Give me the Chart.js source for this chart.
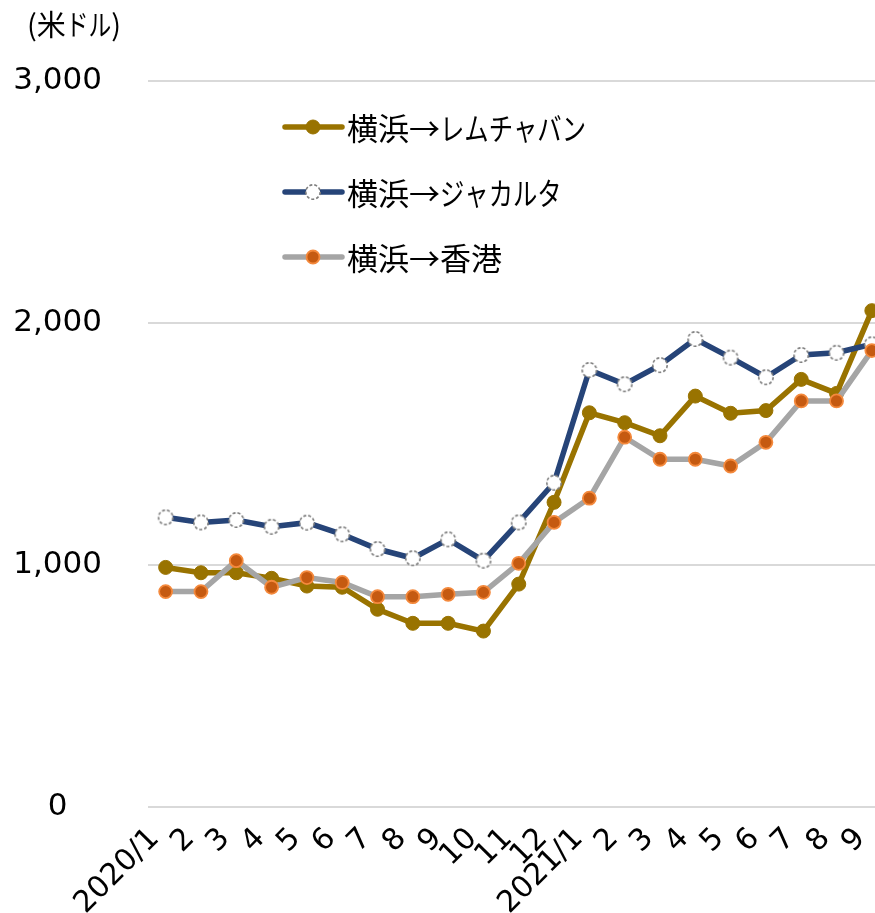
<!DOCTYPE html>
<html>
<head>
<meta charset="utf-8">
<script src="https://cdn.jsdelivr.net/npm/chart.js@4/dist/chart.umd.min.js"></script>
<style>
  html, body { margin: 0; padding: 0; background: #fff; overflow: hidden; }
  #wrap { width: 903px; height: 913px; }
</style>
</head>
<body>
<div id="wrap"><canvas id="myChart" width="903" height="913"></canvas></div>
<script>
  // months on the x axis
  const labels = ['2020/1', '2', '3', '4', '5', '6', '7', '8', '9', '10', '11', '12',
    '2021/1', '2', '3', '4', '5', '6', '7', '8', '9'];

  // freight, US dollars
  const laemChabang = [990, 968, 968, 945, 913, 908, 817, 759, 759, 727, 921, 1259,
    1629, 1588, 1534, 1698, 1627, 1638, 1767, 1709, 2051];
  const jakarta = [1197, 1176, 1186, 1158, 1175, 1127, 1066, 1028, 1106, 1018, 1176, 1340,
    1806, 1747, 1826, 1934, 1857, 1776, 1868, 1877, 1912];
  const hongKong = [890, 890, 1018, 908, 948, 928, 869, 869, 879, 887, 1007, 1176,
    1276, 1528, 1437, 1437, 1409, 1507, 1678, 1678, 1886];

  const yTicks = [0, 1000, 2000, 3000];
  const seriesNames = ['横浜→レムチャバン', '横浜→ジャカルタ', '横浜→香港'];

  // white marker with dashed grey ring
  const dashed = document.createElement('canvas');
  dashed.width = 20;
  dashed.height = 20;
  const dc = dashed.getContext('2d');
  dc.beginPath();
  dc.arc(10, 10, 7.2, 0, Math.PI * 2);
  dc.fillStyle = '#fff';
  dc.fill();
  dc.setLineDash([3, 2]);
  dc.lineWidth = 1.6;
  dc.strokeStyle = '#7f7f7f';
  dc.stroke();

  // kana are narrower than kanji in the original font, squeeze them a bit
  function drawJp(ctx, text, x, y, size) {
    ctx.font = size + 'px "Noto Sans CJK JP"';
    for (const ch of text) {
      const narrow = /[\u3040-\u30ff]/.test(ch);
      const w = ctx.measureText(ch).width;
      const k = narrow ? 0.785 : 1;
      ctx.save();
      ctx.translate(x, y);
      ctx.scale(k, 1);
      ctx.fillText(ch, 0, 0);
      ctx.restore();
      x += w * k;
    }
  }

  const unitLabel = {
    id: 'unitLabel',
    afterDraw(chart) {
      const ctx = chart.ctx;
      ctx.save();
      ctx.fillStyle = '#000';
      ctx.textBaseline = 'middle';
      ctx.textAlign = 'left';
      drawJp(ctx, '(米ドル)', 27, 25, 29);
      ctx.restore();
    }
  };

  // x labels slanted like the spreadsheet does them
  const slantLabels = {
    id: 'slantLabels',
    afterDraw(chart) {
      const ctx = chart.ctx;
      const xs = chart.scales.x;
      ctx.save();
      ctx.font = '30px "DejaVu Sans"';
      ctx.fillStyle = '#000';
      ctx.textAlign = 'right';
      ctx.textBaseline = 'middle';
      xs.ticks.forEach((t, i) => {
        const px = xs.getPixelForTick(i);
        ctx.save();
        ctx.translate(px - 11, xs.top + 27);
        ctx.rotate(-Math.PI / 4);
        ctx.fillText(labels[i], 0, 0);
        ctx.restore();
      });
      ctx.restore();
    }
  };

  const legendBox = {
    id: 'legendBox',
    afterDraw(chart) {
      const ctx = chart.ctx;
      const x0 = chart.chartArea.left + 137;
      ctx.save();
      chart.data.datasets.forEach((ds, i) => {
        const y = 127 + i * 65;
        ctx.beginPath();
        ctx.moveTo(x0, y);
        ctx.lineTo(x0 + 57, y);
        ctx.lineWidth = ds.borderWidth;
        ctx.strokeStyle = ds.borderColor;
        ctx.lineCap = 'round';
        ctx.stroke();
        const cx = x0 + 28;
        if (ds.pointStyle === dashed) {
          ctx.drawImage(dashed, cx - 10, y - 10);
        } else {
          ctx.beginPath();
          ctx.arc(cx, y, ds.pointRadius, 0, Math.PI * 2);
          ctx.fillStyle = ds.pointBackgroundColor;
          ctx.fill();
          ctx.lineWidth = ds.pointBorderWidth;
          ctx.strokeStyle = ds.pointBorderColor;
          ctx.stroke();
        }
        ctx.fillStyle = '#000';
        ctx.textBaseline = 'middle';
        ctx.textAlign = 'left';
        drawJp(ctx, ds.label, x0 + 62, y + 1, 31);
      });
      ctx.restore();
    }
  };

  const data = {
    labels: labels,
    datasets: [
      {
        label: seriesNames[0],
        data: laemChabang,
        borderColor: '#997300',
        borderWidth: 5.5,
        pointRadius: 7,
        pointBackgroundColor: '#997300',
        pointBorderColor: '#997300',
        pointBorderWidth: 1,
        tension: 0,
        order: 2
      },
      {
        label: seriesNames[1],
        data: jakarta,
        borderColor: '#264478',
        borderWidth: 5.5,
        pointStyle: dashed,
        pointRadius: 8,
        tension: 0,
        order: 1
      },
      {
        label: seriesNames[2],
        data: hongKong,
        borderColor: '#a5a5a5',
        borderWidth: 5.5,
        pointRadius: 6.5,
        pointBackgroundColor: '#c55a11',
        pointBorderColor: '#f4893c',
        pointBorderWidth: 1.8,
        tension: 0,
        order: 0
      }
    ]
  };

  const config = {
    type: 'line',
    data: data,
    options: {
      responsive: false,
      animation: false,
      layout: { padding: { top: 81, right: 2, left: 0, bottom: 0 } },
      plugins: {
        legend: { display: false },
        tooltip: { enabled: false }
      },
      scales: {
        x: {
          offset: true,
          grid: { display: false },
          border: { display: false },
          ticks: { display: false, autoSkip: false },
          afterFit(scale) { scale.height = 106; }
        },
        y: {
          min: 0,
          max: 3000,
          afterBuildTicks(scale) { scale.ticks = yTicks.map(v => ({ value: v })); },
          grid: { color: '#d9d9d9', lineWidth: 2, drawTicks: false },
          border: { display: false },
          ticks: {
            crossAlign: 'center',
            padding: 46,
            color: '#000',
            font: { family: '"DejaVu Sans"', size: 31 },
            callback: v => v.toLocaleString('en-US')
          },
          afterFit(scale) { scale.width = 148; }
        }
      }
    },
    plugins: [unitLabel, slantLabels, legendBox]
  };

  const myChart = new Chart(
    document.getElementById('myChart'),
    config
  );
</script>
</body>
</html>
